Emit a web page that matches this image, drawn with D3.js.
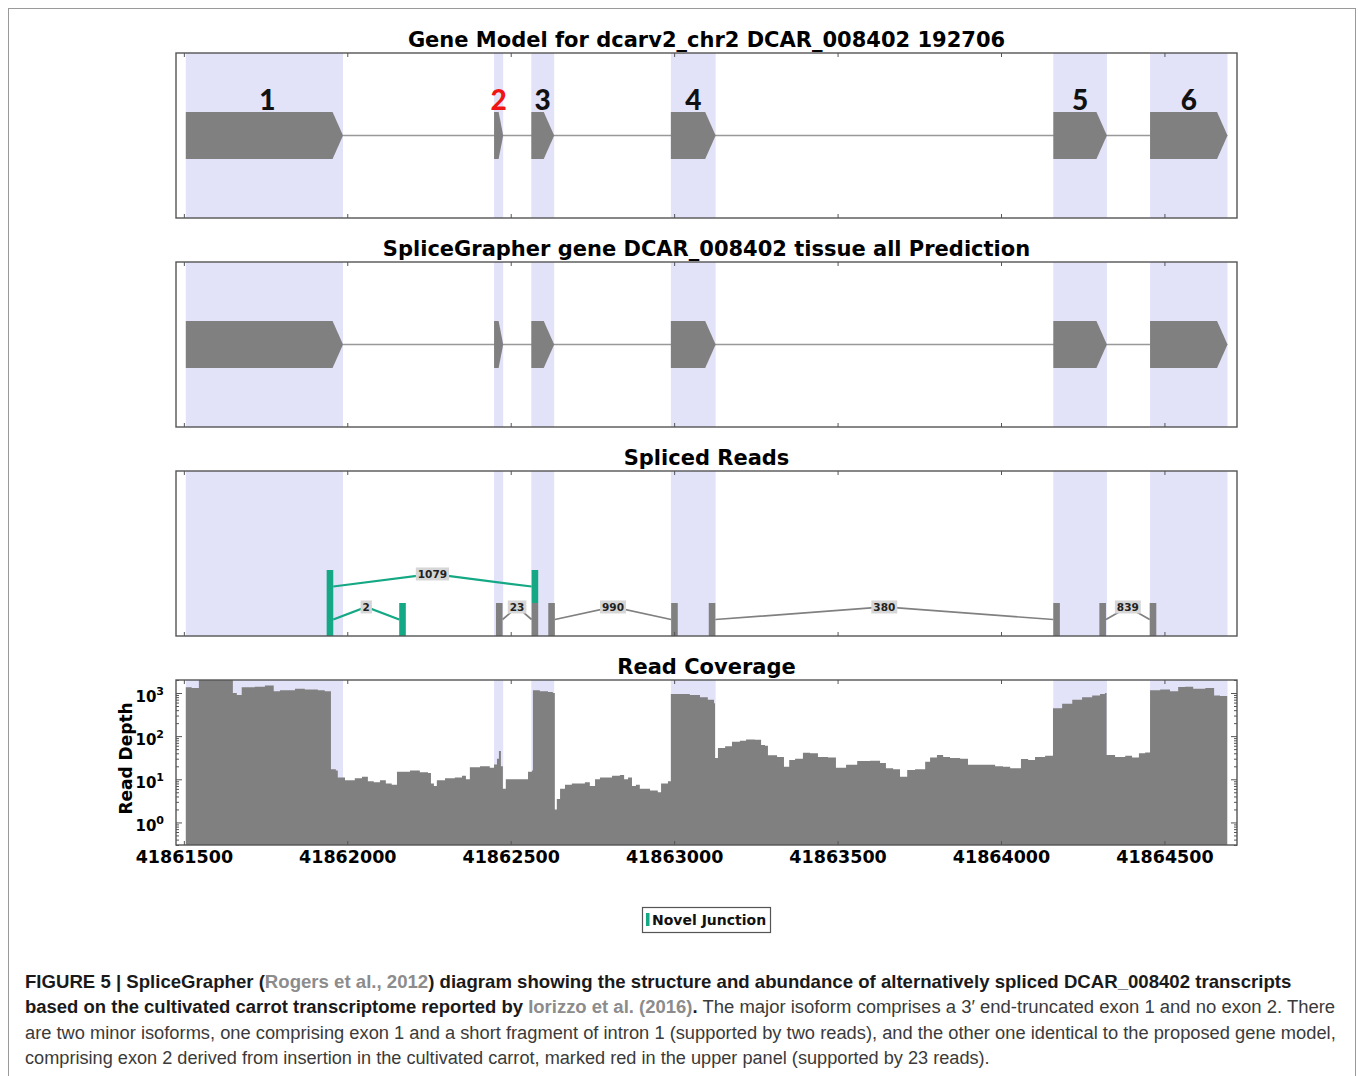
<!DOCTYPE html>
<html><head><meta charset="utf-8">
<script src="https://cdn.jsdelivr.net/npm/d3@7"></script>
<style>body{margin:0;background:#fff} svg{display:block}</style>
</head><body>
<svg id="c" width="1358" height="1076"></svg>
<script>
// ---------------- DATA ----------------
const panelTitles = [
  "Gene Model for dcarv2_chr2 DCAR_008402 192706",
  "SpliceGrapher gene DCAR_008402 tissue all Prediction",
  "Spliced Reads",
  "Read Coverage"
];
const exonStarts = [41861506, 41862449, 41862563, 41862990, 41864160, 41864456];
const exonEnds   = [41861987, 41862477, 41862633, 41863127, 41864324, 41864693];
const exonLabels = ["1", "2", "3", "4", "5", "6"];
const exonNovel  = [false, true, false, false, false, false];

const junctionDonors    = [41861947, 41861947, 41862465, 41862625, 41863116, 41864311];
const junctionAcceptors = [41862574, 41862169, 41862574, 41863001, 41864170, 41864465];
const junctionCounts    = [1079, 2, 23, 990, 380, 839];
const junctionNovel     = [true, true, false, false, false, false];
const junctionLevels    = [1, 0, 0, 0, 0, 0];

const xTicks = [41861500, 41862000, 41862500, 41863000, 41863500, 41864000, 41864500];
const yTicks = [1, 10, 100, 1000];
const yTickExp = ["0", "1", "2", "3"];

// [genomic position, read depth] (step function)
const coverage = [
 [41861506,1350],[41861524,1300],[41861546,2200],[41861650,1000],[41861662,900],[41861677,1350],
 [41861717,1400],[41861748,1500],[41861775,1100],[41861794,1150],[41861840,1250],[41861870,1200],
 [41861910,1150],[41861931,1100],[41861950,17],[41861965,16],[41861971,11],[41861993,9.5],
 [41862023,10.5],[41862045,11.5],[41862063,9],[41862081,8.5],[41862100,9.5],[41862118,8],
 [41862136,7.5],[41862152,15],[41862192,16],[41862222,14.5],[41862247,14],[41862256,8],
 [41862265,7],[41862274,9.5],[41862299,10.5],[41862329,11],[41862351,12],[41862363,10],
 [41862375,19],[41862406,20],[41862436,18.5],[41862449,22],[41862458,30],[41862464,45],
 [41862470,20],[41862476,6],[41862485,10],[41862513,10],[41862547,10],[41862553,15],
 [41862565,16],[41862568,1150],[41862589,1100],[41862614,1050],[41862629,1000],[41862635,2],
 [41862641,3.5],[41862651,6],[41862666,7.5],[41862687,8],[41862727,8.5],[41862742,7],
 [41862758,10],[41862773,11],[41862810,12],[41862834,12.5],[41862847,10],[41862859,11],
 [41862871,7],[41862883,7.5],[41862895,6],[41862926,5.5],[41862950,5],[41862960,8],
 [41862981,9],[41862990,950],[41863018,950],[41863048,900],[41863079,800],[41863103,700],
 [41863122,580],[41863125,31],[41863134,53],[41863156,58],[41863177,74],[41863201,78],
 [41863220,84],[41863247,82],[41863266,62],[41863278,60],[41863287,36],[41863315,33],
 [41863336,19.6],[41863352,28],[41863370,30],[41863394,41],[41863416,40],[41863440,33],
 [41863471,32],[41863495,18.4],[41863526,21.6],[41863560,26.5],[41863599,27],[41863630,24],
 [41863648,18],[41863670,17],[41863691,11.5],[41863713,16.5],[41863737,17],[41863768,25.6],
 [41863783,32],[41863804,36.5],[41863823,33],[41863844,31],[41863875,30],[41863899,21.6],
 [41863954,21.6],[41863982,20],[41864006,19.6],[41864028,18],[41864061,29.5],[41864083,28],
 [41864104,33],[41864135,35],[41864159,445],[41864187,560],[41864218,700],[41864248,800],
 [41864279,880],[41864303,950],[41864318,1000],[41864323,36.5],[41864349,33],[41864380,35],
 [41864401,32],[41864422,40],[41864441,42],[41864456,1150],[41864487,1200],[41864517,1100],
 [41864542,1370],[41864563,1400],[41864588,1250],[41864625,1300],[41864652,870],[41864670,850],
 [41864692,0.3]
];

const legendLabel = "Novel Junction";

// ---------------- LAYOUT ----------------
const svg = d3.select("#c");
const SHADE = "#e2e2f9", GREY = "#808080", GREEN = "#14a884", FRAME = "#555";
const FONT = "'DejaVu Sans', sans-serif";
const x = d3.scaleLinear().domain([41861476, 41864722]).range([176, 1237]);
const panelTop = [53, 262, 471, 680], panelH = 165;
const L = 176, R = 1237;

// outer border
svg.append("rect").attr("x", 8.5).attr("y", 8.5).attr("width", 1347).attr("height", 1100)
  .attr("fill", "none").attr("stroke", "#9a9a9a").attr("stroke-width", 1);

panelTop.forEach((top, i) => {
  const bottom = top + panelH;
  const g = svg.append("g");
  const cid = "clip" + i;
  svg.append("clipPath").attr("id", cid).append("rect")
    .attr("x", L).attr("y", top).attr("width", R - L).attr("height", panelH);
  const content = g.append("g").attr("clip-path", `url(#${cid})`);
  content.selectAll("rect.shade").data(exonStarts).join("rect").attr("class", "shade")
    .attr("x", (d, k) => x(d)).attr("width", (d, k) => x(exonEnds[k]) - x(d))
    .attr("y", top).attr("height", panelH).attr("fill", SHADE);

  svg.append("text").attr("x", (L + R) / 2).attr("y", top - 6).attr("text-anchor", "middle")
    .attr("font-family", FONT).attr("font-weight", "bold").attr("font-size", 21)
    .text(panelTitles[i]);

  if (i < 2) {
    const gy = d3.scaleLinear().domain([-1, 1]).range([bottom, top]);
    const h = 0.285;
    content.append("line").attr("x1", x(exonEnds[0])).attr("x2", x(exonStarts[5]))
      .attr("y1", gy(0)).attr("y2", gy(0)).attr("stroke", "#999").attr("stroke-width", 1.3);
    exonStarts.forEach((s, k) => {
      const e = exonEnds[k];
      const a = Math.min(32, (e - s) / 2);
      const pts = [[s, h], [e - a, h], [e, 0], [e - a, -h], [s, -h]]
        .map(p => [x(p[0]), gy(p[1])].join(",")).join(" ");
      content.append("polygon").attr("points", pts).attr("fill", GREY);
      if (i === 0) {
        svg.append("text").attr("x", x((s + e) / 2) + (k === 0 ? 3 : 0)).attr("y", gy(0.31))
          .attr("text-anchor", "middle").attr("font-family", "Lato, 'Open Sans', sans-serif")
          .attr("font-weight", 900).attr("font-size", 28)
          .attr("fill", exonNovel[k] ? "#f01414" : "#111").text(exonLabels[k]);
      }
    });
  } else if (i === 2) {
    const sy = d3.scaleLinear().domain([0, 5]).range([bottom, top]);
    const bw = 6.6;
    junctionDonors.forEach((d, k) => {
      const a = junctionAcceptors[k], lv = junctionLevels[k];
      const col = junctionNovel[k] ? GREEN : GREY;
      const mid = (d + a) / 2;
      content.append("polyline")
        .attr("points", [[x(d) + bw / 2, sy(lv + 0.5)], [x(mid), sy(lv + 0.88)], [x(a) - bw / 2, sy(lv + 0.5)]]
          .map(p => p.join(",")).join(" "))
        .attr("fill", "none").attr("stroke", col).attr("stroke-width", junctionNovel[k] ? 2.2 : 1.7);
      [d, a].forEach(p => {
        content.append("rect").attr("x", x(p) - bw / 2).attr("width", bw)
          .attr("y", sy(lv + 1)).attr("height", sy(lv) - sy(lv + 1)).attr("fill", col);
      });
    });
    junctionDonors.forEach((d, k) => {
      const a = junctionAcceptors[k], lv = junctionLevels[k];
      const mid = (d + a) / 2;
      const t = content.append("text").attr("x", x(mid)).attr("y", sy(lv + 0.88) + 3.8)
        .attr("text-anchor", "middle").attr("font-family", FONT).attr("font-weight", "bold")
        .attr("font-size", 10.5).attr("fill", "#222").text(junctionCounts[k]);
      const w = t.node().getComputedTextLength();
      content.insert("rect", () => t.node()).attr("x", x(mid) - w / 2 - 2).attr("width", w + 4)
        .attr("y", sy(lv + 0.88) - 6.5).attr("height", 13).attr("fill", "#d6d6d6");
    });
  } else {
    const y = d3.scaleLog().domain([0.3, 2000]).range([bottom, top]);
    const area = d3.area().x(d => x(d[0])).y0(bottom).y1(d => y(Math.max(0.3, Math.min(d[1], 2000))))
      .curve(d3.curveStepAfter);
    content.append("path").datum(coverage).attr("d", area).attr("fill", GREY);

    const minor = [];
    [0.1, 1, 10, 100, 1000].forEach(dec => [2,3,4,5,6,7,8,9].forEach(m => {
      const v = dec * m; if (v >= 0.3 && v <= 2000) minor.push(v);
    }));
    [["left", L], ["right", R]].forEach(([side, px]) => {
      const mk = side === "left" ? d3.axisLeft : d3.axisRight;
      const gA = g.append("g").attr("transform", `translate(${px},0)`)
        .call(mk(y).tickValues(yTicks).tickSize(-6).tickFormat(""));
      gA.select(".domain").remove();
      gA.selectAll("line").attr("stroke", FRAME);
      const gB = g.append("g").attr("transform", `translate(${px},0)`)
        .call(mk(y).tickValues(minor).tickSize(-3).tickFormat(""));
      gB.select(".domain").remove();
      gB.selectAll("line").attr("stroke", FRAME);
    });
    yTicks.forEach((v, k) => {
      const t = svg.append("text").attr("x", 164).attr("y", y(v) + 9).attr("text-anchor", "end")
        .attr("font-family", FONT).attr("font-weight", "bold").attr("font-size", 15);
      t.append("tspan").text("10");
      t.append("tspan").attr("dy", -7).attr("font-size", 11).text(yTickExp[k]);
    });
    svg.append("text").attr("transform", `translate(132,${(top + bottom) / 2 - 4}) rotate(-90)`)
      .attr("text-anchor", "middle").attr("font-family", FONT).attr("font-weight", "bold")
      .attr("font-size", 17).text("Read Depth");
  }

  const axT = g.append("g").attr("transform", `translate(0,${top})`)
    .call(d3.axisTop(x).tickValues(xTicks).tickSize(-4).tickFormat(""));
  axT.select(".domain").remove(); axT.selectAll("line").attr("stroke", FRAME);
  const axB = g.append("g").attr("transform", `translate(0,${bottom})`)
    .call(d3.axisBottom(x).tickValues(xTicks).tickSize(-4).tickPadding(6)
      .tickFormat(i === 3 ? d3.format("d") : ""));
  axB.select(".domain").remove(); axB.selectAll("line").attr("stroke", FRAME);
  axB.selectAll("text").attr("font-family", FONT).attr("font-weight", "bold")
    .attr("font-size", 17.5).attr("fill", "#000");

  g.append("rect").attr("x", L).attr("y", top).attr("width", R - L).attr("height", panelH)
    .attr("fill", "none").attr("stroke", FRAME).attr("stroke-width", 1.4);
});

// legend
const lg = svg.append("g");
lg.append("rect").attr("x", 642.5).attr("y", 907.5).attr("width", 128).attr("height", 25)
  .attr("fill", "#fff").attr("stroke", "#555").attr("stroke-width", 1.2);
lg.append("rect").attr("x", 646).attr("y", 913).attr("width", 3.5).attr("height", 13).attr("fill", GREEN);
lg.append("text").attr("x", 652).attr("y", 925).attr("font-family", FONT).attr("font-weight", "bold")
  .attr("font-size", 14).attr("fill", "#111").text(legendLabel);

// caption
const lines = [
  [["FIGURE 5 | SpliceGrapher (", "b"], ["Rogers et al., 2012", "l"], [") diagram showing the structure and abundance of alternatively spliced DCAR_008402 transcripts", "b"]],
  [["based on the cultivated carrot transcriptome reported by ", "b"], ["Iorizzo et al. (2016)", "l"], [".", "b"], [" The major isoform comprises a 3\u2032 end-truncated exon 1 and no exon 2. There", "r"]],
  [["are two minor isoforms, one comprising exon 1 and a short fragment of intron 1 (supported by two reads), and the other one identical to the proposed gene model,", "r"]],
  [["comprising exon 2 derived from insertion in the cultivated carrot, marked red in the upper panel (supported by 23 reads).", "r"]]
];
const lineWidths = [1267, 1311, 1312, 965];
lines.forEach((ln, k) => {
  const gl = svg.append("g").attr("font-family", "'Liberation Sans', Arial, sans-serif").attr("font-size", 19);
  const t = gl.append("text").attr("x", 0).attr("y", 988 + k * 25.3);
  ln.forEach(([s, st]) => {
    t.append("tspan").text(s)
      .attr("font-weight", st === "r" ? "normal" : "bold")
      .attr("fill", st === "l" ? "#8c8c8c" : (st === "b" ? "#1a1a1a" : "#3a3a3a"));
  });
  const w = t.node().getComputedTextLength();
  gl.attr("transform", `translate(25,0) scale(${lineWidths[k] / w},1)`);
});
</script>
</body></html>
